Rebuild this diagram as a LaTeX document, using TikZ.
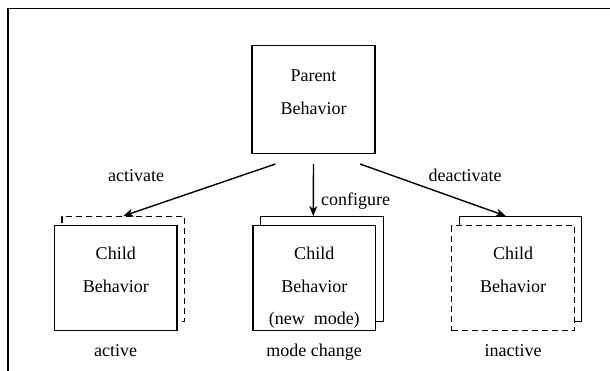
\documentclass[tikz,border=0pt]{standalone}
\usepackage{fontspec}
\setmainfont{Liberation Serif}
\usetikzlibrary{arrows.meta,positioning}

\begin{document}
\begin{tikzpicture}[x=1pt, y=1pt,
    box/.style={rectangle, draw=black, line width=1.4pt, fill=white,
                minimum width=122.5pt, minimum height=105pt, inner sep=0pt},
    dashbox/.style={box, dash pattern=on 6pt off 4pt},
    boxtext/.style={font=\fontsize{18}{32.5}\selectfont, align=center, inner sep=0pt, anchor=north},
    lbl/.style={font=\fontsize{18}{22}\selectfont, inner sep=0pt, anchor=base},
    arr/.style={line width=1.4pt, -{Stealth[length=10pt,width=8pt,inset=3pt]}}
]
    \useasboundingbox (0,0) rectangle (610,371);
    \draw[line width=1.4pt] (610,362.5) -- (8,362.5) -- (8,0);
    % parent
    \node[box, minimum width=123pt, minimum height=108pt] (parent) at (313.5,271.4) {};
    \node[boxtext] (parenttxt) at ([yshift=-25]parent.north) {Parent\\Behavior};
    % active child
    \node[dashbox] (cAback) at (123.25,101.8) {};
    \node[box] (cA) at (115.75,92.8) {};
    \node[boxtext] (cAtxt) at ([yshift=-22]cA.north) {Child\\Behavior};
    \node[lbl] (cAlbl) at (115.6,14) {active};
    % mode change child
    \node[box] (cMback) at (322,101.8) {};
    \node[box] (cM) at (314.25,92.8) {};
    \node[boxtext] (cMtxt) at ([yshift=-22]cM.north) {Child\\Behavior\\(new\ \ mode)};
    \node[lbl] (cMlbl) at (314,14) {mode change};
    % inactive child
    \node[box] (cIback) at (520.5,101.8) {};
    \node[dashbox] (cI) at (513,92.8) {};
    \node[boxtext] (cItxt) at ([yshift=-22]cI.north) {Child\\Behavior};
    \node[lbl] (cIlbl) at (513,14) {inactive};
    % transitions
    \draw[arr] ([xshift=-38,yshift=-9.7]parent.south) -- (cAback.north);
    \draw[arr] ([yshift=-9.7]parent.south) -- ([xshift=-8.75]cMback.north);
    \draw[arr] ([xshift=46.5,yshift=-9.7]parent.south) -- ([xshift=-14.7]cIback.north);
    \node[lbl] (activate) at (136,189) {activate};
    \node[lbl] (deactivate) at (465,189) {deactivate};
    \node[lbl, anchor=base west] (configure) at (321,165) {configure};
\end{tikzpicture}
\end{document}
